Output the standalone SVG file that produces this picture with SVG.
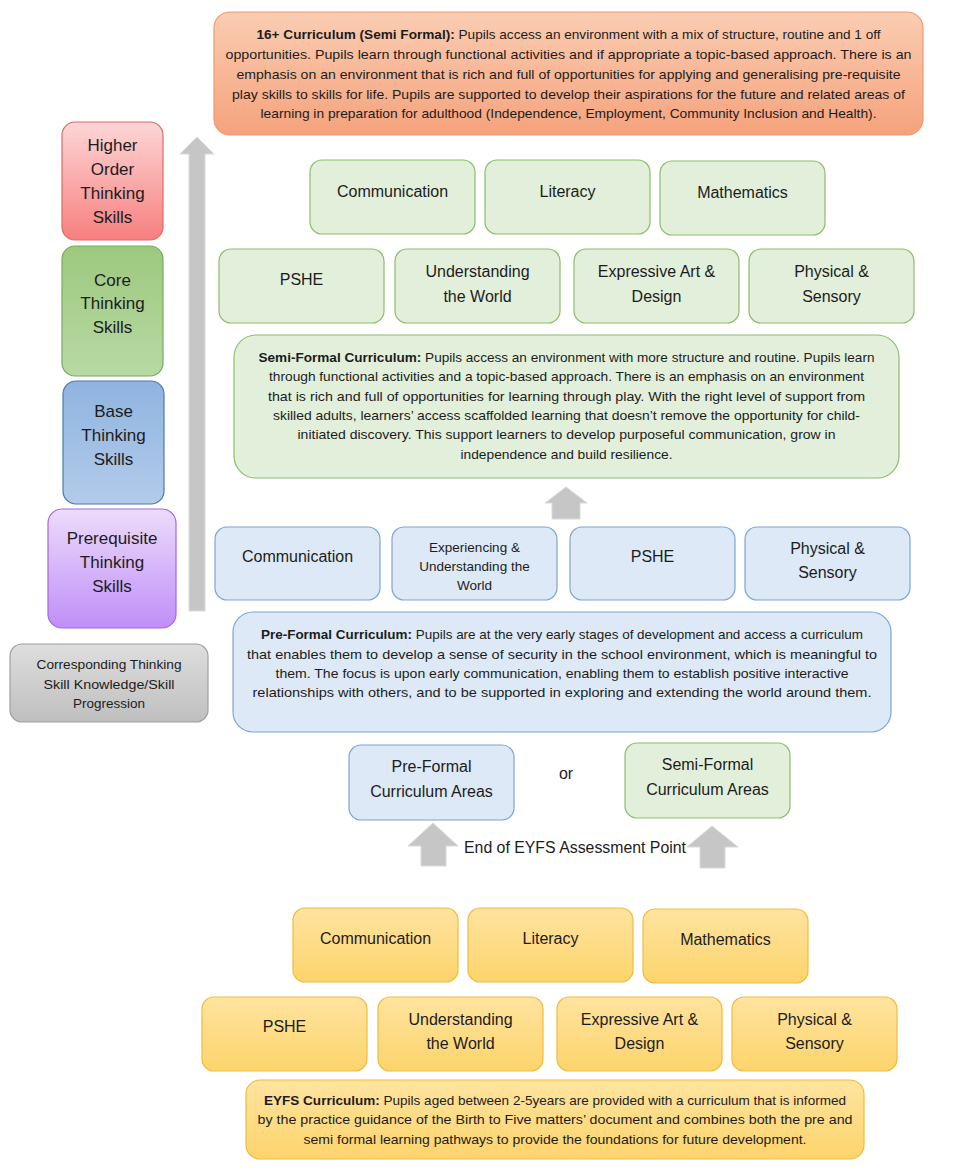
<svg xmlns="http://www.w3.org/2000/svg" width="958" height="1172" viewBox="0 0 958 1172">
<defs>
<linearGradient id="gOrange" x1="0" y1="0" x2="0" y2="1"><stop offset="0" stop-color="#fbcdb2"/><stop offset="1" stop-color="#f5a27c"/></linearGradient>
<linearGradient id="gRed" x1="0" y1="0" x2="0" y2="1"><stop offset="0" stop-color="#fdd6d6"/><stop offset="1" stop-color="#f87f7f"/></linearGradient>
<linearGradient id="gGreen" x1="0" y1="0" x2="0" y2="1"><stop offset="0" stop-color="#9cc97e"/><stop offset="1" stop-color="#b8d9a4"/></linearGradient>
<linearGradient id="gBlue" x1="0" y1="0" x2="0" y2="1"><stop offset="0" stop-color="#8fb4e0"/><stop offset="1" stop-color="#b3cbea"/></linearGradient>
<linearGradient id="gPurple" x1="0" y1="0" x2="0" y2="1"><stop offset="0" stop-color="#eddcfc"/><stop offset="1" stop-color="#bf8ef8"/></linearGradient>
<linearGradient id="gGray" x1="0" y1="0" x2="0" y2="1"><stop offset="0" stop-color="#dedede"/><stop offset="1" stop-color="#bfbfbf"/></linearGradient>
<linearGradient id="gYellow" x1="0" y1="0" x2="0" y2="1"><stop offset="0" stop-color="#ffe49f"/><stop offset="1" stop-color="#fdd46c"/></linearGradient>
</defs>
<style>
text{font-family:"Liberation Sans",Arial,sans-serif;fill:#1c1c1c;text-anchor:middle}
.lbl{font-size:16px}
.big{font-size:17px}
.sm{font-size:13.5px}
.par{font-size:13.5px}
.b{font-weight:bold}
.green{fill:#e2efda;stroke:#8dbd6c;stroke-width:1.2}
.blue{fill:#dde9f6;stroke:#7ea6d0;stroke-width:1.2}
.yellow{fill:url(#gYellow);stroke:#efbd3c;stroke-width:1.2}
.arrow{fill:#c6c6c6;stroke:#dadada;stroke-width:1}
</style>
<rect width="958" height="1172" fill="#ffffff"/>

<g id="connectors">
<path class="arrow" d="M197,137 L214,154 L205,154 L205,611 L189,611 L189,154 L180,154 Z"/>
<path class="arrow" d="M566,487 L587,503 L580,503 L580,519 L552,519 L552,503 L545,503 Z"/>
<path class="arrow" d="M433,823 L458,846 L446,846 L446,866 L421,866 L421,846 L408,846 Z"/>
<path class="arrow" d="M712,826 L738,847 L725,847 L725,868 L700,868 L700,847 L687,847 Z"/>
</g>

<g id="n16plus">
<rect x="214" y="12" width="709" height="123" rx="16" fill="url(#gOrange)" stroke="#f09a6c" stroke-width="1.2"/>
<text class="par" x="568.5" y="38.5" textLength="624" lengthAdjust="spacingAndGlyphs"><tspan class="b">16+ Curriculum (Semi Formal):</tspan> Pupils access an environment with a mix of structure, routine and 1 off</text>
<text class="par" x="568.5" y="58.5" textLength="686" lengthAdjust="spacingAndGlyphs">opportunities. Pupils learn through functional activities and if appropriate a topic-based approach. There is an</text>
<text class="par" x="568.5" y="78.5" textLength="664" lengthAdjust="spacingAndGlyphs">emphasis on an environment that is rich and full of opportunities for applying and generalising pre-requisite</text>
<text class="par" x="568.5" y="98.5" textLength="673" lengthAdjust="spacingAndGlyphs">play skills to skills for life. Pupils are supported to develop their aspirations for the future and related areas of</text>
<text class="par" x="568.5" y="117.5" textLength="616" lengthAdjust="spacingAndGlyphs">learning in preparation for adulthood (Independence, Employment, Community Inclusion and Health).</text>
</g>

<g id="higher">
<rect x="62" y="122" width="101" height="118" rx="13" fill="url(#gRed)" stroke="#de6a6a" stroke-width="1.2"/>
<text class="big" x="112.5" y="151">Higher</text>
<text class="big" x="112.5" y="175">Order</text>
<text class="big" x="112.5" y="199">Thinking</text>
<text class="big" x="112.5" y="223">Skills</text>
</g>
<g id="core">
<rect x="62" y="246" width="101" height="130" rx="13" fill="url(#gGreen)" stroke="#7aab5a" stroke-width="1.2"/>
<text class="big" x="112.5" y="286">Core</text>
<text class="big" x="112.5" y="309">Thinking</text>
<text class="big" x="112.5" y="333">Skills</text>
</g>
<g id="base">
<rect x="63" y="381" width="101" height="123" rx="13" fill="url(#gBlue)" stroke="#4a7bb0" stroke-width="1.2"/>
<text class="big" x="113.5" y="417">Base</text>
<text class="big" x="113.5" y="441">Thinking</text>
<text class="big" x="113.5" y="465">Skills</text>
</g>
<g id="prereq">
<rect x="48" y="509" width="128" height="119" rx="14" fill="url(#gPurple)" stroke="#a466e2" stroke-width="1.2"/>
<text class="big" x="112" y="544">Prerequisite</text>
<text class="big" x="112" y="568">Thinking</text>
<text class="big" x="112" y="592">Skills</text>
</g>
<g id="corresponding">
<rect x="10" y="644" width="198" height="78" rx="12" fill="url(#gGray)" stroke="#a0a0a0" stroke-width="1.2"/>
<text class="par" x="109" y="668.5" textLength="145" lengthAdjust="spacingAndGlyphs">Corresponding Thinking</text>
<text class="par" x="109" y="688.5" textLength="131" lengthAdjust="spacingAndGlyphs">Skill Knowledge/Skill</text>
<text class="par" x="109" y="707.5" textLength="72" lengthAdjust="spacingAndGlyphs">Progression</text>
</g>

<g id="sf-communication"><rect class="green" x="310" y="160" width="165" height="74" rx="12"/><text class="lbl" x="392.5" y="197">Communication</text></g>
<g id="sf-literacy"><rect class="green" x="485" y="160" width="165" height="74" rx="12"/><text class="lbl" x="567.5" y="197">Literacy</text></g>
<g id="sf-mathematics"><rect class="green" x="660" y="161" width="165" height="74" rx="12"/><text class="lbl" x="742.5" y="198">Mathematics</text></g>
<g id="sf-pshe"><rect class="green" x="219" y="249" width="165" height="74" rx="12"/><text class="lbl" x="301.5" y="285">PSHE</text></g>
<g id="sf-utw"><rect class="green" x="395" y="249" width="165" height="74" rx="12"/><text class="lbl" x="477.5" y="277">Understanding</text><text class="lbl" x="477.5" y="302">the World</text></g>
<g id="sf-ead"><rect class="green" x="574" y="249" width="165" height="74" rx="12"/><text class="lbl" x="656.5" y="277">Expressive Art &amp;</text><text class="lbl" x="656.5" y="302">Design</text></g>
<g id="sf-phys"><rect class="green" x="749" y="249" width="165" height="74" rx="12"/><text class="lbl" x="831.5" y="277">Physical &amp;</text><text class="lbl" x="831.5" y="302">Sensory</text></g>

<g id="semiformal">
<rect class="green" x="234" y="335" width="665" height="143" rx="22"/>
<text class="par" x="566.5" y="361.5" textLength="616" lengthAdjust="spacingAndGlyphs"><tspan class="b">Semi-Formal Curriculum:</tspan> Pupils access an environment with more structure and routine. Pupils learn</text>
<text class="par" x="566.5" y="380.5" textLength="595" lengthAdjust="spacingAndGlyphs">through functional activities and a topic-based approach. There is an emphasis on an environment</text>
<text class="par" x="566.5" y="400.5" textLength="597" lengthAdjust="spacingAndGlyphs">that is rich and full of opportunities for learning through play. With the right level of support from</text>
<text class="par" x="566.5" y="419.5" textLength="587" lengthAdjust="spacingAndGlyphs">skilled adults, learners’ access scaffolded learning that doesn’t remove the opportunity for child-</text>
<text class="par" x="566.5" y="438.5" textLength="538" lengthAdjust="spacingAndGlyphs">initiated discovery. This support learners to develop purposeful communication, grow in</text>
<text class="par" x="566.5" y="458.5" textLength="212" lengthAdjust="spacingAndGlyphs">independence and build resilience.</text>
</g>

<g id="pf-communication"><rect class="blue" x="215" y="527" width="165" height="73" rx="12"/><text class="lbl" x="297.5" y="562">Communication</text></g>
<g id="pf-experiencing"><rect class="blue" x="392" y="527" width="165" height="73" rx="12"/><text class="sm" x="474.5" y="551.5">Experiencing &amp;</text><text class="sm" x="474.5" y="570.5">Understanding the</text><text class="sm" x="474.5" y="589.5">World</text></g>
<g id="pf-pshe"><rect class="blue" x="570" y="527" width="165" height="73" rx="12"/><text class="lbl" x="652.5" y="562">PSHE</text></g>
<g id="pf-phys"><rect class="blue" x="745" y="527" width="165" height="73" rx="12"/><text class="lbl" x="827.5" y="554">Physical &amp;</text><text class="lbl" x="827.5" y="578">Sensory</text></g>

<g id="preformal">
<rect class="blue" x="233" y="612" width="658" height="120" rx="20"/>
<text class="par" x="562" y="638.5" textLength="602" lengthAdjust="spacingAndGlyphs"><tspan class="b">Pre-Formal Curriculum:</tspan> Pupils are at the very early stages of development and access a curriculum</text>
<text class="par" x="562" y="658.5" textLength="630" lengthAdjust="spacingAndGlyphs">that enables them to develop a sense of security in the school environment, which is meaningful to</text>
<text class="par" x="562" y="677.5" textLength="573" lengthAdjust="spacingAndGlyphs">them. The focus is upon early communication, enabling them to establish positive interactive</text>
<text class="par" x="562" y="696.5" textLength="619" lengthAdjust="spacingAndGlyphs">relationships with others, and to be supported in exploring and extending the world around them.</text>
</g>

<g id="pf-areas"><rect class="blue" x="349" y="745" width="165" height="75" rx="12"/><text class="lbl" x="431.5" y="772">Pre-Formal</text><text class="lbl" x="431.5" y="797">Curriculum Areas</text></g>
<g id="or-label"><text class="lbl" x="566" y="779">or</text></g>
<g id="sf-areas"><rect class="green" x="625" y="743" width="165" height="75" rx="12"/><text class="lbl" x="707.5" y="770">Semi-Formal</text><text class="lbl" x="707.5" y="795">Curriculum Areas</text></g>
<g id="eyfs-point"><text class="lbl" x="575" y="853" textLength="222" lengthAdjust="spacingAndGlyphs">End of EYFS Assessment Point</text></g>

<g id="ey-communication"><rect class="yellow" x="293" y="908" width="165" height="74" rx="12"/><text class="lbl" x="375.5" y="944">Communication</text></g>
<g id="ey-literacy"><rect class="yellow" x="468" y="908" width="165" height="74" rx="12"/><text class="lbl" x="550.5" y="944">Literacy</text></g>
<g id="ey-mathematics"><rect class="yellow" x="643" y="909" width="165" height="74" rx="12"/><text class="lbl" x="725.5" y="945">Mathematics</text></g>
<g id="ey-pshe"><rect class="yellow" x="202" y="997" width="165" height="74" rx="12"/><text class="lbl" x="284.5" y="1032">PSHE</text></g>
<g id="ey-utw"><rect class="yellow" x="378" y="997" width="165" height="74" rx="12"/><text class="lbl" x="460.5" y="1025">Understanding</text><text class="lbl" x="460.5" y="1049">the World</text></g>
<g id="ey-ead"><rect class="yellow" x="557" y="997" width="165" height="74" rx="12"/><text class="lbl" x="639.5" y="1025">Expressive Art &amp;</text><text class="lbl" x="639.5" y="1049">Design</text></g>
<g id="ey-phys"><rect class="yellow" x="732" y="997" width="165" height="74" rx="12"/><text class="lbl" x="814.5" y="1025">Physical &amp;</text><text class="lbl" x="814.5" y="1049">Sensory</text></g>

<g id="eyfs">
<rect class="yellow" x="246" y="1080" width="618" height="79" rx="14"/>
<text class="par" x="555" y="1104.5" textLength="582" lengthAdjust="spacingAndGlyphs"><tspan class="b">EYFS Curriculum:</tspan> Pupils aged between 2-5years are provided with a curriculum that is informed</text>
<text class="par" x="555" y="1123.5" textLength="595" lengthAdjust="spacingAndGlyphs">by the practice guidance of the Birth to Five matters’ document and combines both the pre and</text>
<text class="par" x="555" y="1143.5" textLength="503" lengthAdjust="spacingAndGlyphs">semi formal learning pathways to provide the foundations for future development.</text>
</g>
</svg>
